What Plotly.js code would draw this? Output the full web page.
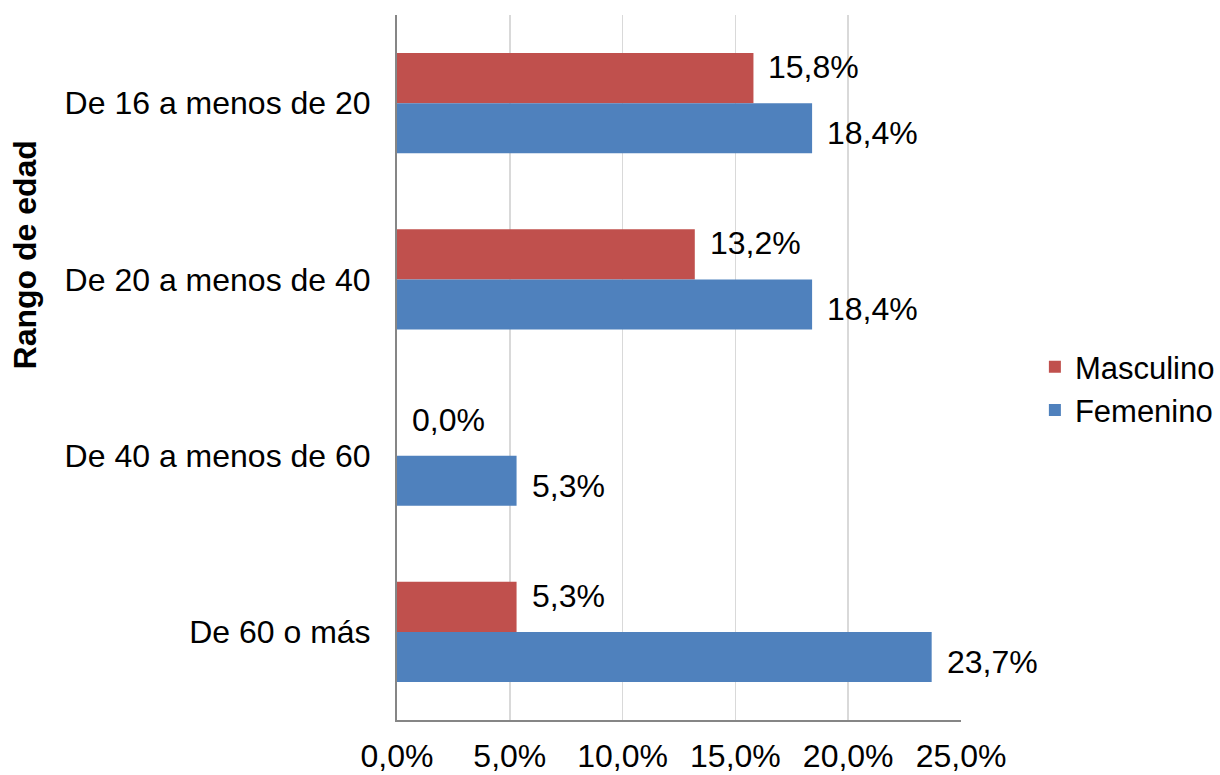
<!DOCTYPE html>
<html>
<head>
<meta charset="utf-8">
<script src="https://cdn.plot.ly/plotly-3.0.1.min.js"></script>
<style>html,body{margin:0;padding:0;background:#fff;}#chart{width:1220px;height:775px;}</style>
</head>
<body>
<div id="chart"></div>
<script>
const categories = ["De 16 a menos de 20", "De 20 a menos de 40", "De 40 a menos de 60", "De 60 o más"];
const masculino = [15.8, 13.2, 0.0, 5.3];
const femenino = [18.4, 18.4, 5.3, 23.7];
const tickValues = [0, 5, 10, 15, 20, 25];
const tickLabels = ["0,0%", "5,0%", "10,0%", "15,0%", "20,0%", "25,0%"];
const yTitle = "Rango de edad";

const FONT = "Liberation Sans, Arial, sans-serif";
const FS = 32;
const fmt = v => v.toFixed(1).replace(".", ",") + "%";

const traces = [
  {type: "bar", orientation: "h", name: "Masculino", legendgroup: "m", y: categories, x: masculino,
   marker: {color: "#C0504D"}, hoverinfo: "x+y"},
  {type: "bar", orientation: "h", name: "Femenino", legendgroup: "f", y: categories, x: femenino,
   marker: {color: "#4F81BD"}, hoverinfo: "x+y"}
];

const annotations = [];
categories.forEach((c, i) => {
  annotations.push({x: masculino[i], y: c, xref: "x", yref: "y", text: fmt(masculino[i]),
    showarrow: false, xanchor: "left", yanchor: "middle", xshift: 13, yshift: 36,
    font: {family: FONT, size: FS, color: "#000"}});
  annotations.push({x: femenino[i], y: c, xref: "x", yref: "y", text: fmt(femenino[i]),
    showarrow: false, xanchor: "left", yanchor: "middle", xshift: 13, yshift: -30,
    font: {family: FONT, size: FS, color: "#000"}});
});
annotations.push({xref: "paper", yref: "paper", x: -0.66, y: 0.66, xanchor: "center", yanchor: "middle",
  text: "<b>" + yTitle + "</b>", textangle: -90, showarrow: false,
  font: {family: FONT, size: FS, color: "#000"}});

const layout = {
  width: 1220, height: 775,
  margin: {l: 397, r: 259, t: 15, b: 55, autoexpand: false},
  paper_bgcolor: "#fff", plot_bgcolor: "#fff",
  font: {family: FONT, size: FS, color: "#000"},
  barmode: "group", bargap: 0.43, bargroupgap: 0,
  showlegend: true,
  legend: {x: 1.131, xanchor: "left", y: 0.47, yanchor: "middle",
    font: {family: FONT, size: 31, color: "#000"}, traceorder: "normal",
    itemclick: false, tracegroupgap: 14},
  xaxis: {range: [0, 25], tickvals: tickValues, ticktext: tickLabels,
    showgrid: true, gridcolor: "#D9D9D9", gridwidth: 1.5,
    showline: true, linecolor: "#868686", linewidth: 2, zeroline: false,
    ticks: "", ticklabelstandoff: 7, fixedrange: true, automargin: false,
    tickfont: {family: FONT, size: FS, color: "#000"}},
  yaxis: {type: "category", autorange: "reversed",
    showgrid: false, showline: true, linecolor: "#868686", linewidth: 2,
    ticks: "", ticklabelstandoff: 18, fixedrange: true, automargin: false,
    tickfont: {family: FONT, size: FS, color: "#000"}},
  annotations: annotations
};

Plotly.newPlot("chart", traces, layout, {displayModeBar: false, staticPlot: true});
</script>
</body>
</html>
